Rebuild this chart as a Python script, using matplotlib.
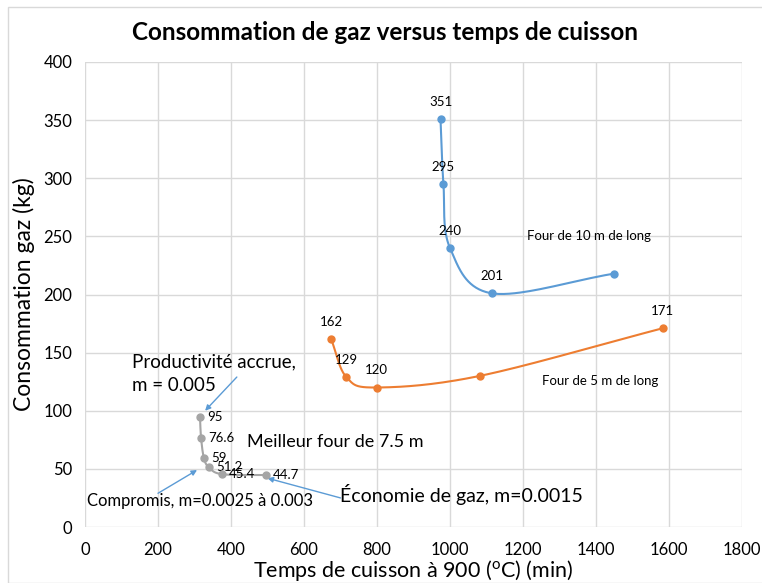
import numpy as np
import matplotlib
matplotlib.use("Agg")
import matplotlib.pyplot as plt
from matplotlib.patches import Rectangle

plt.rcParams['font.family'] = ['Lato', 'DejaVu Sans']

# Data
x10 = [974, 982, 1000, 1115, 1450]
y10 = [351, 295, 240, 201, 218]
lab10 = ['351', '295', '240', '201', '']

x5 = [674, 716, 799, 1082, 1583]
y5 = [162, 129, 120, 130, 171]
lab5 = ['162', '129', '120', '', '171']

x75 = [315, 318, 326, 340, 376, 495]
y75 = [95, 76.6, 59, 51.2, 45.4, 44.7]
lab75 = ['95', '76.6', '59', '51.2', '45.4', '44.7']

xticks = [0, 200, 400, 600, 800, 1000, 1200, 1400, 1600, 1800]
yticks = [0, 50, 100, 150, 200, 250, 300, 350, 400]

BLUE = '#5B9BD5'
ORANGE = '#ED7D31'
GRAY = '#A5A5A5'


def smooth(xs, ys, n=40):
    """Catmull-Rom spline through points (Excel-like smoothed line)."""
    P = np.column_stack([xs, ys]).astype(float)
    sx = 1800.0 / 657
    sy = 400.0 / 465
    P[:, 0] /= sx
    P[:, 1] /= sy
    pts = np.vstack([P[0] * 2 - P[1], P, P[-1] * 2 - P[-2]])
    out = []
    for i in range(1, len(pts) - 2):
        p0, p1, p2, p3 = pts[i - 1], pts[i], pts[i + 1], pts[i + 2]
        t = np.linspace(0, 1, n)[:, None]
        c = 0.5 * ((2 * p1) + (-p0 + p2) * t + (2 * p0 - 5 * p1 + 4 * p2 - p3) * t ** 2
                   + (-p0 + 3 * p1 - 3 * p2 + p3) * t ** 3)
        out.append(c)
    C = np.vstack(out)
    return C[:, 0] * sx, C[:, 1] * sy


fig = plt.figure(figsize=(7.62, 5.83), dpi=100)
fig.patches.append(Rectangle((8 / 762, 0), 1, 1 - 7 / 583, transform=fig.transFigure,
                             fill=False, edgecolor='#D9D9D9', linewidth=1))
ax = fig.add_axes([85 / 762, 1 - 527 / 583, (742 - 85) / 762, (527 - 62) / 583])

for xs, ys, col in [(x10, y10, BLUE), (x5, y5, ORANGE), (x75, y75, GRAY)]:
    sxv, syv = smooth(xs, ys)
    ax.plot(sxv, syv, color=col, lw=1.5, zorder=3)
    ax.plot(xs, ys, 'o', color=col, ms=5, zorder=4)

for xv, yv, l in zip(x10, y10, lab10):
    if l:
        ax.annotate(l, (xv, yv), xytext=(0, 8), textcoords='offset points',
                    ha='center', va='bottom', fontsize=9.5)
for xv, yv, l in zip(x5, y5, lab5):
    if l:
        ax.annotate(l, (xv, yv), xytext=(0, 8), textcoords='offset points',
                    ha='center', va='bottom', fontsize=9.5)
for xv, yv, l in zip(x75, y75, lab75):
    ax.annotate(l, (xv, yv), xytext=(5, 0), textcoords='offset points',
                ha='left', va='center', fontsize=9.5)

ax.set_xlim(0, 1800)
ax.set_ylim(0, 400)
ax.set_xticks(xticks)
ax.set_yticks(yticks)
ax.grid(True, color='#D9D9D9', lw=1)
ax.set_axisbelow(True)
for s in ax.spines.values():
    s.set_visible(False)
ax.tick_params(length=0, labelsize=12, pad=9)
ax.tick_params(axis='x', pad=11)

ax.set_xlabel('Temps de cuisson à 900 ($\\mathregular{^{o}}$C) (min)', fontsize=15.5, labelpad=0)
ax.set_ylabel('Consommation gaz (kg)', fontsize=16.5, labelpad=6)
fig.text(0.505, 1 - 32 / 583, 'Consommation de gaz versus temps de cuisson',
         ha='center', va='center', fontsize=17.5, fontweight='bold')

# Text annotations
ax.text(1211, 250, 'Four de 10 m de long', fontsize=9.5, va='center', ha='left')
ax.text(1252, 126, 'Four de 5 m de long', fontsize=9.5, va='center', ha='left')
ax.text(445, 73, 'Meilleur four de 7.5 m', fontsize=13, va='center', ha='left')

arrowprops = dict(arrowstyle='-|>', color=BLUE, lw=1, mutation_scale=8, shrinkA=0, shrinkB=0)
ax.text(130, 132, 'Productivité accrue,\nm = 0.005', fontsize=13.5, ha='left', va='center',
        linespacing=1.5)
ax.annotate('', xy=(329, 100), xytext=(416, 129), arrowprops=dict(arrowprops))
ax.annotate('', xy=(307, 49), xytext=(200, 29), arrowprops=dict(arrowprops))
ax.text(5, 22, 'Compromis, m=0.0025 à 0.003', fontsize=12, va='center', ha='left')
ax.annotate('', xy=(500, 42), xytext=(700, 25), arrowprops=dict(arrowprops))
ax.text(700, 28, 'Économie de gaz, m=0.0015', fontsize=14, va='center', ha='left')

fig.savefig('out.png', dpi=100)
